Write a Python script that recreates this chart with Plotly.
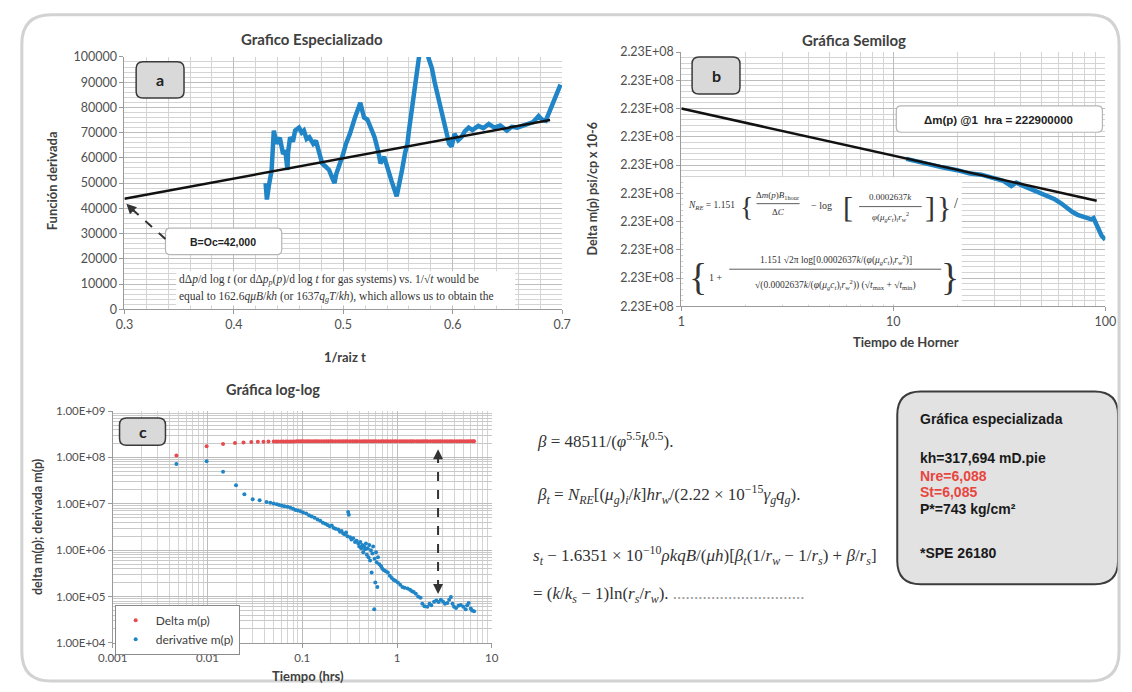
import plotly.graph_objects as go

W, H = 1132, 692


def px(x):
    return x / W


def py(y):
    return 1 - y / H


# ---------------- data ----------------
# (a) Grafico Especializado : derivative function vs 1/sqrt(t)
a_x = [0.429, 0.4302, 0.432, 0.4345, 0.4365, 0.439, 0.442, 0.445, 0.447, 0.449,
       0.4495, 0.4514, 0.454, 0.456, 0.4595, 0.462, 0.464, 0.4665, 0.469, 0.4725,
       0.475, 0.4775, 0.4807, 0.484, 0.487, 0.4895, 0.492, 0.4935, 0.496, 0.4995,
       0.5025, 0.506, 0.5107, 0.5135, 0.5156, 0.5175, 0.519, 0.522, 0.5255, 0.5286,
       0.532, 0.534, 0.5374, 0.5406, 0.544, 0.5488, 0.5515, 0.5537, 0.5565, 0.5586,
       0.560, 0.5645, 0.5684, 0.573, 0.578, 0.581, 0.5835, 0.5869, 0.592, 0.5967,
       0.599, 0.6016, 0.605, 0.608, 0.611, 0.6146, 0.618, 0.6234, 0.628, 0.633,
       0.638, 0.6435, 0.6495, 0.654, 0.659, 0.6635, 0.6685, 0.6735, 0.6785, 0.682,
       0.685, 0.6885, 0.6915, 0.695, 0.6985]
a_y = [50000, 43500, 49000, 55000, 70800, 65600, 68000, 61500, 63000, 55200,
       62000, 68200, 66500, 70800, 72000, 70000, 70800, 67500, 68200, 65600,
       66800, 62000, 57800, 56500, 55200, 52500, 50000, 53500, 56500, 61000,
       65600, 69500, 76000, 79000, 81800, 78500, 76000, 75200, 71500, 68200,
       62500, 57800, 60400, 55200, 51000, 44800, 50000, 55200, 62000, 65600,
       70800, 88000, 102000, 112000, 99400, 95500, 90000, 83800, 74000, 65600,
       64500, 69500, 67000, 68200, 70500, 72000, 71000, 72700, 71800, 73400,
       72000, 72800, 70800, 72300, 72000, 72600, 73400, 74200, 76600, 75000,
       74700, 78500, 81200, 85500, 89000]
a_fit_x = [0.3, 0.689]
a_fit_y = [43800, 75000]
a_xticks = [0.3, 0.4, 0.5, 0.6, 0.7]
a_xticktext = ["0.3", "0.4", "0.5", "0.6", "0.7"]
a_yticks = [0, 10000, 20000, 30000, 40000, 50000, 60000, 70000, 80000, 90000, 100000]

# (b) Grafica Semilog : delta m(p) vs Horner time
b_x = [11.5, 13, 15, 17, 20, 23, 26, 30, 33, 36, 38, 40, 43, 46, 50, 54, 58, 62,
       66, 70, 74, 78, 82, 86, 88, 90, 93, 96, 100]
b_y = [222891100, 222890600, 222890200, 222889600, 222889100, 222888500, 222888300,
       222887600, 222887200, 222886300, 222886900, 222886500, 222886000, 222885600,
       222885100, 222884500, 222883900, 222883200, 222882400, 222881700, 222881200,
       222880900, 222880700, 222880400, 222880600, 222879800, 222878500, 222877500,
       222876800]
b_fit_x = [1, 91]
b_fit_y = [222900000, 222883700]
b_yticks = [222865000, 222870000, 222875000, 222880000, 222885000, 222890000,
            222895000, 222900000, 222905000, 222910000]
b_yticktext = ["2.23E+08"] * 10
b_xticks = [1, 10, 100]

# (c) Grafica log-log
c_t_delta = [0.0047, 0.0098, 0.0146, 0.0195, 0.024, 0.029, 0.034, 0.039, 0.044, 0.05,
             0.053, 0.056, 0.06, 0.063, 0.067, 0.07, 0.074, 0.078, 0.082, 0.087,
             0.092, 0.097, 0.102, 0.108, 0.114, 0.12, 0.127, 0.135, 0.142, 0.15,
             0.16, 0.17, 0.18, 0.19, 0.2, 0.21, 0.225, 0.24, 0.255, 0.27, 0.285,
             0.3, 0.32, 0.34, 0.36, 0.38, 0.405, 0.43, 0.455, 0.48, 0.51, 0.54,
             0.57, 0.6, 0.64, 0.68, 0.72, 0.76, 0.8, 0.85, 0.9, 0.95, 1.0, 1.07,
             1.13, 1.2, 1.27, 1.35, 1.42, 1.5, 1.6, 1.7, 1.8, 1.9, 2.0, 2.1, 2.25,
             2.4, 2.55, 2.7, 2.85, 3.0, 3.2, 3.4, 3.6, 3.8, 4.05, 4.3, 4.55, 4.8,
             5.1, 5.4, 5.7, 6.0, 6.3, 6.5]
c_delta = [1.1e8, 1.75e8, 1.95e8, 2.05e8, 2.1e8, 2.14e8, 2.17e8, 2.19e8, 2.2e8, 2.21e8,
           2.212e8, 2.214e8, 2.215e8, 2.216e8, 2.217e8, 2.218e8, 2.219e8, 2.22e8, 2.22e8, 2.221e8,
           2.221e8, 2.222e8, 2.222e8, 2.223e8, 2.223e8, 2.223e8, 2.224e8, 2.224e8, 2.224e8, 2.225e8,
           2.225e8, 2.225e8, 2.225e8, 2.226e8, 2.226e8, 2.226e8, 2.226e8, 2.226e8, 2.227e8, 2.227e8, 2.227e8,
           2.227e8, 2.227e8, 2.227e8, 2.227e8, 2.228e8, 2.228e8, 2.228e8, 2.228e8, 2.228e8, 2.228e8, 2.228e8,
           2.228e8, 2.228e8, 2.228e8, 2.228e8, 2.228e8, 2.229e8, 2.229e8, 2.229e8, 2.229e8, 2.229e8, 2.229e8, 2.229e8,
           2.229e8, 2.229e8, 2.229e8, 2.229e8, 2.229e8, 2.229e8, 2.229e8, 2.229e8, 2.229e8, 2.229e8, 2.229e8, 2.229e8, 2.229e8,
           2.229e8, 2.229e8, 2.229e8, 2.229e8, 2.229e8, 2.229e8, 2.229e8, 2.229e8, 2.229e8, 2.229e8, 2.229e8, 2.229e8, 2.229e8,
           2.229e8, 2.229e8, 2.229e8, 2.229e8, 2.229e8, 2.229e8]
c_t_deriv = [0.0047, 0.0098, 0.0146, 0.020, 0.0245, 0.030, 0.0355, 0.042, 0.046, 0.05,
             0.054, 0.057, 0.061, 0.065, 0.07, 0.075, 0.08, 0.085, 0.09, 0.096,
             0.102, 0.11, 0.118, 0.126, 0.135, 0.145, 0.155, 0.165, 0.175, 0.185,
             0.195, 0.205, 0.215, 0.225, 0.24, 0.25, 0.26, 0.27, 0.28, 0.29,
             0.3, 0.305, 0.31, 0.32, 0.33, 0.345, 0.36, 0.375, 0.39, 0.4,
             0.41, 0.42, 0.43, 0.44, 0.45, 0.46, 0.47, 0.48, 0.49, 0.5,
             0.51, 0.52, 0.53, 0.54, 0.55, 0.56, 0.575, 0.58, 0.59, 0.6,
             0.61, 0.62, 0.63, 0.65, 0.68, 0.7, 0.73, 0.76, 0.8, 0.84,
             0.88, 0.92, 0.96, 1.02, 1.08, 1.14, 1.2, 1.29, 1.37, 1.44,
             1.5, 1.58, 1.67, 1.77, 1.85, 1.95, 2.09, 2.2, 2.3, 2.46,
             2.6, 2.75, 2.9, 3.05, 3.2, 3.4, 3.55, 3.7, 3.85, 4.0,
             4.2, 4.45, 4.7, 5.0, 5.3, 5.5, 5.7, 6.0, 6.2, 6.5]
c_deriv = [7.2e7, 8.3e7, 4.9e7, 2.5e7, 1.6e7, 1.26e7, 1.2e7, 1.1e7, 1.05e7, 1.02e7,
           9.8e6, 9.4e6, 9.1e6, 8.9e6, 8.6e6, 8.2e6, 7.8e6, 7.4e6, 7.2e6, 6.9e6,
           6.5e6, 6.2e6, 5.7e6, 5.3e6, 5.0e6, 4.6e6, 4.3e6, 3.9e6, 3.7e6, 3.5e6,
           3.3e6, 3.4e6, 3.0e6, 2.9e6, 2.8e6, 2.5e6, 2.6e6, 2.3e6, 2.2e6, 2.4e6,
           2.0e6, 6.7e6, 5.8e6, 1.9e6, 1.7e6, 1.8e6, 1.5e6, 1.6e6, 1.4e6, 1.2e6,
           1.5e6, 1.1e6, 1.3e6, 9.0e5, 1.2e6, 1.05e6, 1.4e6, 8.0e5, 1.1e6, 7.0e5,
           1.3e6, 6.0e5, 1.0e6, 3.3e5, 8.5e5, 1.2e6, 5.3e4, 6.5e5, 2.0e5, 9.0e5,
           5.5e5, 1.6e5, 7.0e5, 5.0e5, 4.5e5, 4.0e5, 3.7e5, 3.5e5, 3.3e5, 2.8e5,
           2.5e5, 2.3e5, 2.2e5, 2.0e5, 1.8e5, 1.6e5, 1.55e5, 1.5e5, 1.4e5, 1.3e5,
           1.25e5, 1.15e5, 1.0e5, 9.4e4, 7.0e4, 6.2e4, 6.0e4, 7.0e4, 6.5e4, 7.7e4,
           8.2e4, 7.6e4, 8.5e4, 7.8e4, 7.0e4, 7.3e4, 8.5e4, 9.8e4, 7.0e4, 6.0e4,
           5.7e4, 6.3e4, 6.6e4, 6.0e4, 5.3e4, 6.5e4, 7.3e4, 5.5e4, 5.0e4, 4.8e4]
c_xticks = [0.001, 0.01, 0.1, 1, 10]
c_xticktext = ["0.001", "0.01", "0.1", "1", "10"]
c_yticks = [1e4, 1e5, 1e6, 1e7, 1e8, 1e9]
c_yticktext = ["1.00E+04", "1.00E+05", "1.00E+06", "1.00E+07", "1.00E+08", "1.00E+09"]

# ---------------- styles ----------------
BLUE = "#1f85c7"
RED = "#e64b4f"
SANS = "Lato, Liberation Sans, sans-serif"
TICKFONT = dict(family=SANS, size=12.5, color="#505050")
TICKFONT_C = dict(family=SANS, size=11.5, color="#505050")
GRID = "#bdbdbd"
MINOR = "#d4d4d4"
AXLINE = "#9a9a9a"

fig = go.Figure()

fig.add_trace(go.Scatter(x=a_x, y=a_y, mode="lines", line=dict(color=BLUE, width=4.5),
                         xaxis="x", yaxis="y", showlegend=False))
fig.add_trace(go.Scatter(x=a_fit_x, y=a_fit_y, mode="lines", line=dict(color="#111111", width=2.5),
                         xaxis="x", yaxis="y", showlegend=False))

fig.add_trace(go.Scatter(x=b_x, y=b_y, mode="lines", line=dict(color=BLUE, width=4.5),
                         xaxis="x2", yaxis="y2", showlegend=False))
fig.add_trace(go.Scatter(x=b_fit_x, y=b_fit_y, mode="lines", line=dict(color="#111111", width=2.5),
                         xaxis="x2", yaxis="y2", showlegend=False))

fig.add_trace(go.Scatter(x=c_t_delta, y=c_delta, mode="markers", name="Delta m(p)",
                         marker=dict(color=RED, size=4), xaxis="x3", yaxis="y3"))
fig.add_trace(go.Scatter(x=c_t_deriv, y=c_deriv, mode="markers", name="derivative m(p)",
                         marker=dict(color=BLUE, size=4), xaxis="x3", yaxis="y3"))

common = dict(showgrid=True, gridcolor=GRID, gridwidth=1, showline=True, linecolor=AXLINE,
              linewidth=1, ticks="outside", ticklen=4, tickcolor=AXLINE, zeroline=False)

fig.update_layout(
    width=W, height=H,
    margin=dict(l=0, r=0, t=0, b=0),
    paper_bgcolor="white", plot_bgcolor="white",
    hovermode=False,
    xaxis=dict(domain=[px(112), px(560)], range=[0.3, 0.7], tickvals=a_xticks,
               ticktext=a_xticktext, anchor="y", tickfont=TICKFONT,
               minor=dict(dtick=0.02, tick0=0.3, showgrid=True, gridcolor=MINOR), **common),
    yaxis=dict(domain=[py(308), py(50)], range=[0, 100000], tickvals=a_yticks,
               ticktext=[str(v) for v in a_yticks], anchor="x", tickfont=TICKFONT,
               minor=dict(dtick=2000, tick0=0, showgrid=True, gridcolor=MINOR), **common),
    xaxis2=dict(domain=[px(682), px(1116)], type="log", range=[0, 2], tickvals=b_xticks,
                ticktext=["1", "10", "100"], anchor="y2", tickfont=TICKFONT,
                minor=dict(dtick="D1", showgrid=True, gridcolor=MINOR), **common),
    yaxis2=dict(domain=[py(305), py(45)], range=[222865000, 222910000], tickvals=b_yticks,
                ticktext=b_yticktext, anchor="x2", tickfont=TICKFONT,
                minor=dict(dtick=1000, tick0=222865000, showgrid=True, gridcolor=MINOR), **common),
    xaxis3=dict(domain=[px(100), px(488)], type="log", range=[-3, 1], tickvals=c_xticks,
                ticktext=c_xticktext, anchor="y3", tickfont=TICKFONT_C,
                minor=dict(dtick="D1", showgrid=True, gridcolor=MINOR), **common),
    yaxis3=dict(domain=[py(649), py(412)], type="log", range=[4, 9], tickvals=c_yticks,
                ticktext=c_yticktext, anchor="x3", tickfont=TICKFONT_C,
                minor=dict(dtick="D1", showgrid=True, gridcolor="#c9c9c9"), **common),
    legend=dict(x=px(102), y=py(610), xanchor="left", yanchor="top",
                bgcolor="white", bordercolor="#8a8a8a", borderwidth=1,
                font=dict(family=SANS, size=12, color="#404040"),
                itemwidth=30, tracegroupgap=0),
)


def rrect(x0, y0, x1, y1, r):
    X = px
    Y = py
    return (f"M {X(x0 + r)},{Y(y0)} L {X(x1 - r)},{Y(y0)} Q {X(x1)},{Y(y0)} {X(x1)},{Y(y0 + r)} "
            f"L {X(x1)},{Y(y1 - r)} Q {X(x1)},{Y(y1)} {X(x1 - r)},{Y(y1)} "
            f"L {X(x0 + r)},{Y(y1)} Q {X(x0)},{Y(y1)} {X(x0)},{Y(y1 - r)} "
            f"L {X(x0)},{Y(y0 + r)} Q {X(x0)},{Y(y0)} {X(x0 + r)},{Y(y0)} Z")


shapes = []
# white boxes covering grids (embedded text in the original)
shapes.append(dict(type="rect", xref="paper", yref="paper", x0=px(165), x1=px(512), y0=py(304), y1=py(269),
                   fillcolor="white", line=dict(width=0), layer="above"))
shapes.append(dict(type="rect", xref="paper", yref="paper", x0=px(684), x1=px(969), y0=py(303), y1=py(173),
                   fillcolor="white", line=dict(width=0), layer="above"))
# panel letter boxes
for (x0, y0, x1, y1) in [(124, 55, 173, 92), (693, 50, 742, 88), (107, 419, 154, 447)]:
    shapes.append(dict(type="path", xref="paper", yref="paper", path=rrect(x0, y0, x1, y1, 7),
                       fillcolor="#d9d9d9", line=dict(color="#3a3a3a", width=1.5), layer="above"))
# callout boxes
shapes.append(dict(type="path", xref="paper", yref="paper", path=rrect(154, 225, 273, 252, 5),
                   fillcolor="white", line=dict(color="#b5b5b5", width=1.2), layer="above"))
shapes.append(dict(type="path", xref="paper", yref="paper", path=rrect(902, 100, 1113, 127, 5),
                   fillcolor="white", line=dict(color="#b5b5b5", width=1.2), layer="above"))
# dashed arrows
shapes.append(dict(type="line", xref="paper", yref="paper", x0=px(154), y0=py(236), x1=px(117), y1=py(203),
                   line=dict(color="#333333", width=2, dash="dash"), layer="above"))
shapes.append(dict(type="line", xref="paper", yref="paper", x0=px(433), y0=py(456), x1=px(433), y1=py(594),
                   line=dict(color="#333333", width=2, dash="dash"), layer="above"))
# summary box
shapes.append(dict(type="path", xref="paper", yref="paper", path=rrect(903, 392, 1129, 589, 24),
                   fillcolor="#e2e2e2", line=dict(color="#3c3c3c", width=2), layer="above"))
# outer frame
shapes.append(dict(type="path", xref="paper", yref="paper", path=rrect(7, 7, 1130, 688, 30),
                   fillcolor="rgba(0,0,0,0)", line=dict(color="#d2d2d2", width=3), layer="above"))
# fraction bars in the N_RE formula
shapes.append(dict(type="line", xref="paper", yref="paper", x0=px(759), x1=px(803), y0=py(200), y1=py(200),
                   line=dict(color="#333333", width=0.8), layer="above"))
shapes.append(dict(type="line", xref="paper", yref="paper", x0=px(864), x1=px(928), y0=py(203), y1=py(203),
                   line=dict(color="#333333", width=0.8), layer="above"))
shapes.append(dict(type="line", xref="paper", yref="paper", x0=px(731), x1=px(948), y0=py(267), y1=py(267),
                   line=dict(color="#333333", width=0.8), layer="above"))
fig.update_layout(shapes=shapes)

ann = []


def text(x, y, s, size=11, color="#404040", bold=False, family=SANS,
         xanchor="center", angle=0):
    if bold:
        s = f"<b>{s}</b>"
    ann.append(dict(x=px(x), y=py(y), xref="paper", yref="paper", text=s, showarrow=False,
                    xanchor=xanchor, yanchor="middle", textangle=angle, borderpad=0,
                    font=dict(family=family, size=size, color=color)))


# titles
text(304, 32, "Grafico Especializado", 15, "#404040", True)
text(859, 33, "Gráfica Semilog", 15, "#404040", True)
text(264, 390, "Gráfica log-log", 14.5, "#404040", True)
# axis titles
text(338, 357, "1/raiz t", 13, "#404040", True)
text(912, 341, "Tiempo de Horner", 13, "#404040", True)
text(300, 683, "Tiempo (hrs)", 13, "#404040", True)
text(38, 177, "Función derivada", 13, "#404040", True, angle=-90)
text(592, 185, "Delta m(p) psi/cp x 10-6", 12.5, "#404040", True, angle=-90)
text(23, 530, "delta m(p); derivada m(p)", 12.5, "#404040", True, angle=-90)
# panel letters
text(148.5, 73.5, "a", 16, "#222222", True)
text(717.5, 69, "b", 16, "#222222", True)
text(130.5, 433, "c", 16, "#222222", True)
# callouts
text(213, 239, "B=Oc=42,000", 10.5, "#222222", True, family="Liberation Sans, Arial, sans-serif")
text(1007, 114, "Δm(p) @1  hra = 222900000", 11.5, "#222222", True, family="Liberation Sans, Arial, sans-serif")

SERIF = "Liberation Serif, Times New Roman, serif"
# text inside plot a
text(167, 278, "dΔ<i>p</i>/d log <i>t</i> (or dΔ<i>p<sub>p</sub></i>(<i>p</i>)/d log <i>t</i> for gas systems) vs. 1/√<i>t</i> would be",
     11.5, "#333333", family=SERIF, xanchor="left")
text(167, 295, "equal to 162.6<i>qμB</i>/<i>kh</i> (or 1637<i>q<sub>g</sub>T</i>/<i>kh</i>), which allows us to obtain the",
     11.5, "#333333", family=SERIF, xanchor="left")

# N_RE formula inside plot b
text(688, 202, "<i>N<sub>RE</sub></i> = 1.151", 9.5, "#333333", family=SERIF, xanchor="left")
text(749, 203, "{", 28, "#333333", family=SERIF)
text(781, 192, "Δ<i>m</i>(<i>p</i>)<i>B</i><sub>1hour</sub>", 9, "#333333", family=SERIF)
text(781, 209, "Δ<i>C</i>", 9, "#333333", family=SERIF)
text(825, 202, "− log", 10, "#333333", family=SERIF)
text(853, 203, "[", 30, "#333333", family=SERIF)
text(896, 193, "0.0002637<i>k</i>", 9, "#333333", family=SERIF)
text(896, 213, "<i>φ</i>(<i>μ<sub>g</sub>c<sub>t</sub></i>)<sub><i>i</i></sub><i>r</i><sub><i>w</i></sub><sup>2</sup>", 9, "#333333", family=SERIF)
text(937, 203, "]", 30, "#333333", family=SERIF)
text(951, 203, "}", 30, "#333333", family=SERIF)
text(963, 200, "/", 14, "#333333", family=SERIF)
text(699, 275, "{", 38, "#333333", family=SERIF)
text(717, 275, "1 +", 10, "#333333", family=SERIF)
text(840, 257, "1.151 √2π log[0.0002637<i>k</i>/(<i>φ</i>(<i>μ<sub>g</sub>c<sub>t</sub></i>)<sub><i>i</i></sub><i>r</i><sub><i>w</i></sub><sup>2</sup>)]",
     9.5, "#333333", family=SERIF)
text(840, 283, "√(0.0002637<i>k</i>/(<i>φ</i>(<i>μ<sub>g</sub>c<sub>t</sub></i>)<sub><i>i</i></sub><i>r</i><sub><i>w</i></sub><sup>2</sup>)) (√<i>t</i><sub>max</sub> + √<i>t</i><sub>min</sub>)",
     9.5, "#333333", family=SERIF)
text(957, 275, "}", 38, "#333333", family=SERIF)

# equations on the right
text(533, 442, "<i>β</i> = 48511/(<i>φ</i><sup>5.5</sup><i>k</i><sup>0.5</sup>).", 17, "#333333", family=SERIF, xanchor="left")
text(533, 497, "<i>β<sub>t</sub></i> = <i>N<sub>RE</sub></i>[(<i>μ<sub>g</sub></i>)<sub><i>i</i></sub>/<i>k</i>]<i>hr<sub>w</sub></i>/(2.22 × 10<sup>−15</sup><i>γ<sub>g</sub>q<sub>g</sub></i>).",
     17, "#333333", family=SERIF, xanchor="left")
text(529, 560, "<i>s<sub>t</sub></i> − 1.6351 × 10<sup>−10</sup><i>ρkqB</i>/(<i>μh</i>)[<i>β<sub>t</sub></i>(1/<i>r<sub>w</sub></i> − 1/<i>r<sub>s</sub></i>) + <i>β</i>/<i>r<sub>s</sub></i>]",
     17, "#333333", family=SERIF, xanchor="left")
text(529, 600, "= (<i>k</i>/<i>k<sub>s</sub></i> − 1)ln(<i>r<sub>s</sub></i>/<i>r<sub>w</sub></i>). <span style='color:#999999'>...............................</span>",
     17, "#333333", family=SERIF, xanchor="left")

# summary box text
BOXF = "Liberation Sans, Arial, sans-serif"
text(925, 420, "Gráfica especializada", 14, "#1a1a1a", True, family=BOXF, xanchor="left")
text(925, 460, "kh=317,694 mD.pie", 14, "#1a1a1a", True, family=BOXF, xanchor="left")
text(925, 478, "Nre=6,088", 14, "#e8453f", True, family=BOXF, xanchor="left")
text(925, 495, "St=6,085", 14, "#e8453f", True, family=BOXF, xanchor="left")
text(925, 512, "P*=743 kg/cm²", 14, "#1a1a1a", True, family=BOXF, xanchor="left")
text(925, 557, "*SPE 26180", 14, "#1a1a1a", True, family=BOXF, xanchor="left")

# arrow heads
ann.append(dict(x=px(114), y=py(200), xref="paper", yref="paper", ax=9, ay=9, text="", showarrow=True,
                arrowhead=2, arrowsize=1, arrowwidth=2, arrowcolor="#333333"))
ann.append(dict(x=px(433), y=py(451), xref="paper", yref="paper", ax=0, ay=10, text="", showarrow=True,
                arrowhead=2, arrowsize=1, arrowwidth=2, arrowcolor="#333333"))
ann.append(dict(x=px(433), y=py(599), xref="paper", yref="paper", ax=0, ay=-10, text="", showarrow=True,
                arrowhead=2, arrowsize=1, arrowwidth=2, arrowcolor="#333333"))

fig.update_layout(annotations=ann)

fig.write_html("out.html", config={"displayModeBar": False},
               post_script="document.body.style.margin='0px';")
